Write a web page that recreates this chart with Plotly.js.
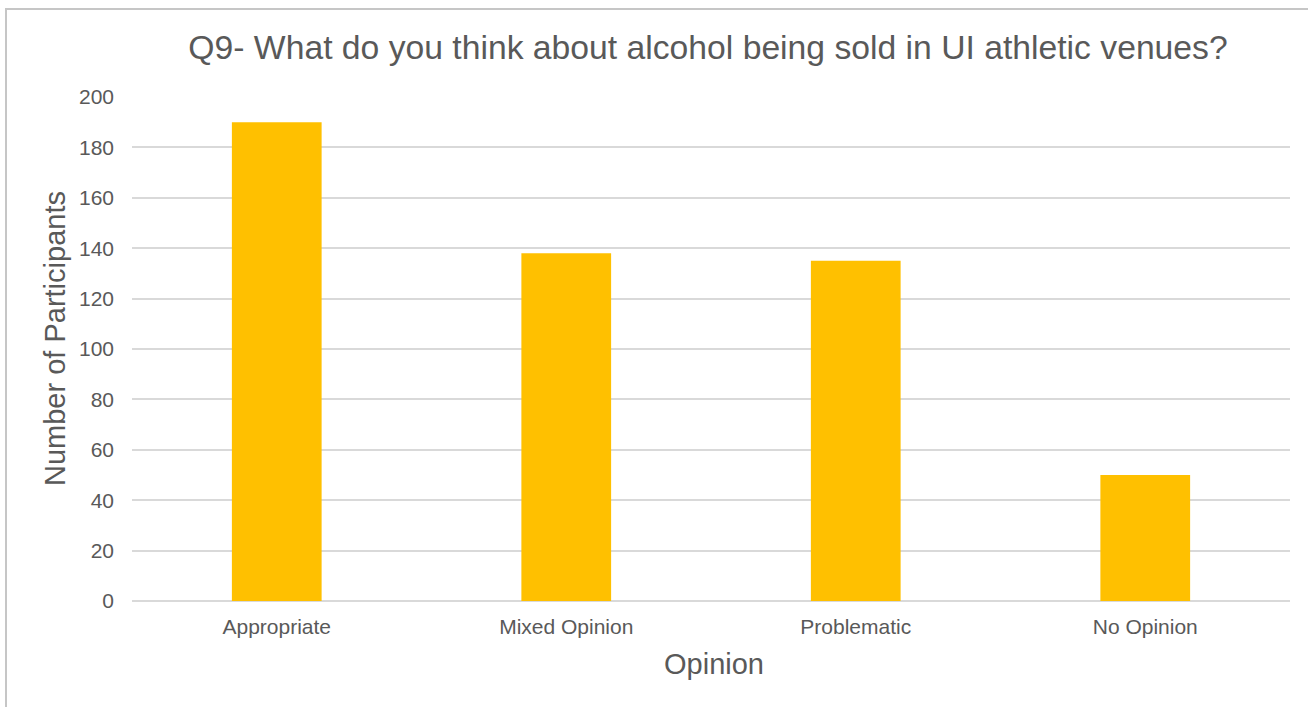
<!DOCTYPE html>
<html>
<head>
<meta charset="utf-8">
<script src="https://cdn.plot.ly/plotly-3.0.1.min.js"></script>
<style>
  html, body { margin: 0; padding: 0; background: #ffffff; }
  #chart { position: absolute; left: 0; top: 0; width: 1308px; height: 707px; }
  #frame { position: absolute; left: 5px; top: 8px; width: 1320px; height: 720px;
           border: 2px solid #c6c6c6; pointer-events: none; box-sizing: border-box; }
</style>
</head>
<body>
<div id="chart"></div>
<div id="frame"></div>
<script>
const categories = ["Appropriate", "Mixed Opinion", "Problematic", "No Opinion"];
const participants = [190, 138, 135, 50];
const yTickValues = [0, 20, 40, 60, 80, 100, 120, 140, 160, 180, 200];
const chartTitle = "Q9- What do you think about alcohol being sold in UI athletic venues?";
const xTitle = "Opinion";
const yTitle = "Number of Participants";

const textColor = "#595959";
const font = "Liberation Sans, Arial, Helvetica, sans-serif";

const trace = {
  type: "bar",
  x: categories,
  y: participants,
  marker: { color: "#FFC000", line: { width: 0 } },
  hoverinfo: "x+y"
};

const layout = {
  width: 1308,
  height: 707,
  paper_bgcolor: "#ffffff",
  plot_bgcolor: "#ffffff",
  margin: { l: 132, r: 18, t: 97, b: 106 },
  bargap: 0.69,
  showlegend: false,
  font: { family: font, color: textColor },
  title: {
    text: chartTitle,
    font: { family: font, size: 33.7, color: textColor },
    x: 0.5413, xanchor: "center",
    y: 0.9335, yanchor: "middle", yref: "container"
  },
  xaxis: {
    type: "category",
    showgrid: false,
    showline: false,
    zeroline: false,
    ticks: "",
    tickfont: { family: font, size: 21, color: textColor },
    ticklabelstandoff: 11
  },
  yaxis: {
    range: [0, 200],
    tickvals: yTickValues,
    ticktext: yTickValues.map(String),
    showgrid: true,
    gridcolor: "#d9d9d9",
    gridwidth: 1.5,
    zeroline: true,
    zerolinecolor: "#d9d9d9",
    zerolinewidth: 1.5,
    showline: false,
    ticks: "",
    tickfont: { family: font, size: 21, color: textColor },
    ticklabelstandoff: 17
  },
  annotations: [
    {
      text: xTitle, showarrow: false,
      xref: "paper", yref: "paper", x: 0.5026, y: -0.125,
      xanchor: "center", yanchor: "middle",
      font: { family: font, size: 29, color: textColor }
    },
    {
      text: yTitle, showarrow: false, textangle: -90,
      xref: "paper", yref: "paper", x: -0.0665, y: 0.5218,
      xanchor: "center", yanchor: "middle",
      font: { family: font, size: 29, color: textColor }
    }
  ]
};

Plotly.newPlot("chart", [trace], layout, { displayModeBar: false });
</script>
</body>
</html>
